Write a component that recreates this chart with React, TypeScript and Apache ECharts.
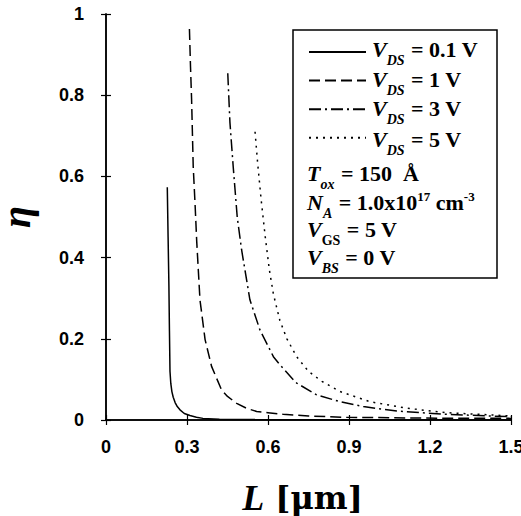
import React, { useEffect, useRef } from 'react';
import * as echarts from 'echarts';

// ---- data ----
const L_VDS01 = [0.227, 0.230, 0.233, 0.235, 0.237, 0.240, 0.244, 0.249, 0.256, 0.264, 0.274, 0.290, 0.311, 0.335, 0.359, 0.42, 0.55, 0.8, 1.5];
const ETA_VDS01 = [0.573, 0.45, 0.33, 0.22, 0.12, 0.09, 0.070, 0.056, 0.043, 0.033, 0.025, 0.016, 0.011, 0.007, 0.004, 0.002, 0.001, 0.0005, 0.0002];

const L_VDS1 = [0.309, 0.313, 0.317, 0.323, 0.330, 0.336, 0.348, 0.367, 0.391, 0.428, 0.45, 0.484, 0.52, 0.558, 0.6, 0.656, 0.75, 0.89, 1.0, 1.14, 1.25, 1.5];
const ETA_VDS1 = [0.963, 0.87, 0.79, 0.625, 0.53, 0.44, 0.296, 0.198, 0.132, 0.074, 0.058, 0.041, 0.029, 0.021, 0.018, 0.014, 0.010, 0.0066, 0.006, 0.005, 0.0045, 0.004];

const L_VDS3 = [0.451, 0.459, 0.471, 0.486, 0.502, 0.533, 0.570, 0.62, 0.644, 0.694, 0.706, 0.78, 0.867, 0.953, 1.077, 1.26, 1.5];
const ETA_VDS3 = [0.854, 0.733, 0.625, 0.50, 0.42, 0.296, 0.222, 0.156, 0.136, 0.099, 0.091, 0.062, 0.045, 0.033, 0.022, 0.014, 0.008];

const L_VDS5 = [0.552, 0.562, 0.575, 0.59, 0.605, 0.62, 0.644, 0.67, 0.706, 0.75, 0.8, 0.867, 0.978, 1.114, 1.26, 1.5];
const ETA_VDS5 = [0.71, 0.63, 0.54, 0.45, 0.37, 0.31, 0.245, 0.20, 0.156, 0.12, 0.095, 0.07, 0.045, 0.029, 0.018, 0.01];

const SERIES_NAMES = ['VDS = 0.1 V', 'VDS = 1 V', 'VDS = 3 V', 'VDS = 5 V'];
const LEGEND_VALUES = ['0.1 V', '1 V', '3 V', '5 V'];
const LINE_DASHES: (number[] | 'solid')[] = ['solid', [11, 5], [12, 4, 2, 4], [2, 5]];

const X_MIN = 0, X_MAX = 1.5, X_STEP = 0.3;
const Y_MIN = 0, Y_MAX = 1, Y_STEP = 0.2;

// legend / parameter text pieces: [text, kind]
type Kind = 'main' | 'text' | 'sub' | 'subUp' | 'sup';
const LEGEND_ROWS: [string, Kind][][] = LEGEND_VALUES.map((v) => [
  ['V', 'main'], ['DS', 'sub'], [' = ' + v, 'text'],
]);
const PARAM_ROWS: [string, Kind][][] = [
  [['T', 'main'], ['ox', 'sub'], [' = 150  Å', 'text']],
  [['N', 'main'], ['A', 'sub'], [' = 1.0x10', 'text'], ['17', 'sup'], [' cm', 'text'], ['-3', 'sup']],
  [['V', 'main'], ['GS', 'subUp'], [' = 5 V', 'text']],
  [['V', 'main'], ['BS', 'sub'], [' = 0 V', 'text']],
];

const SERIF = "'Liberation Serif', 'Times New Roman', serif";
const SANS = "'Liberation Sans', Arial, sans-serif";
const DEJAVU = "'DejaVu Serif', serif";

const KIND_STYLE: Record<Kind, { size: number; italic: boolean; dy: number }> = {
  main: { size: 22, italic: true, dy: 0 },
  text: { size: 22, italic: false, dy: 0 },
  sub: { size: 14, italic: true, dy: 11 },
  subUp: { size: 14, italic: false, dy: 11 },
  sup: { size: 13, italic: false, dy: -6 },
};

const zip = (xs: number[], ys: number[]) => xs.map((x, i) => [x, ys[i]]);
const SERIES_DATA = [zip(L_VDS01, ETA_VDS01), zip(L_VDS1, ETA_VDS1), zip(L_VDS3, ETA_VDS3), zip(L_VDS5, ETA_VDS5)];

export default function App() {
  const ref = useRef<HTMLDivElement>(null);
  useEffect(() => {
    const chart = echarts.init(ref.current!, null, { renderer: 'svg' });
    const ctx = document.createElement('canvas').getContext('2d')!;
    const fontOf = (k: Kind) => {
      const s = KIND_STYLE[k];
      return `${s.italic ? 'italic ' : ''}bold ${s.size}px 'Liberation Serif'`;
    };
    const rowElements = (row: [string, Kind][], x0: number, y: number) => {
      let x = x0;
      const out: any[] = [];
      row.forEach(([t, k]) => {
        const s = KIND_STYLE[k];
        out.push({
          type: 'text', z: 5, x, y: y + s.dy,
          style: {
            text: t, fill: '#000', fontFamily: SERIF, fontSize: s.size,
            fontStyle: s.italic ? 'italic' : 'normal', fontWeight: 'bold',
            verticalAlign: 'middle', align: 'left',
          },
        });
        ctx.font = fontOf(k);
        x += ctx.measureText(t).width + (k === 'sub' || k === 'subUp' ? 1 : 0);
      });
      return out;
    };
    const LEGEND_TEXT_Y = [49, 79, 108, 139];
    const PARAM_Y = [173, 202, 229, 257];

    const axisLine = { lineStyle: { color: '#000', width: 1.5 } };
    const axisTick = { inside: true, length: 5, lineStyle: { color: '#000', width: 1.2 } };
    const labelStyle = { color: '#000', fontSize: 18, fontWeight: 'bold', fontFamily: SANS };
    const option: any = {
      animation: false,
      backgroundColor: '#fff',
      grid: { left: 106, right: 10, top: 14, bottom: 96, containLabel: false, outerBoundsMode: 'none' },
      xAxis: [
        {
          type: 'value', min: X_MIN, max: X_MAX, interval: X_STEP, position: 'bottom',
          axisLine, axisTick, splitLine: { show: false },
          axisLabel: { ...labelStyle, margin: 18 },
          name: '{l|L} {r|[μm]}', nameLocation: 'middle', nameGap: 63,
          nameTextStyle: {
            fontFamily: DEJAVU, fontWeight: 'bold', fontSize: 32, color: '#000', lineHeight: 30,
            padding: [0, 12, 0, 0],
            rich: {
              l: { fontFamily: SERIF, fontStyle: 'italic', fontWeight: 'bold', fontSize: 36, lineHeight: 30, color: '#000' },
              r: { fontFamily: DEJAVU, fontWeight: 'bold', fontSize: 32, lineHeight: 30, color: '#000' },
            },
          },
        },
        {
          type: 'value', min: X_MIN, max: X_MAX, interval: X_STEP, position: 'top',
          axisLine, axisTick, splitLine: { show: false }, axisLabel: { show: false },
        },
      ],
      yAxis: [
        {
          type: 'value', min: Y_MIN, max: Y_MAX, interval: Y_STEP, position: 'left',
          axisLine, axisTick, splitLine: { show: false },
          axisLabel: { ...labelStyle, margin: 22 },
          name: 'η', nameLocation: 'middle', nameGap: 78,
          nameTextStyle: { fontFamily: SERIF, fontStyle: 'italic', fontWeight: 'bold', fontSize: 40, lineHeight: 24, color: '#000' },
        },
        {
          type: 'value', min: Y_MIN, max: Y_MAX, interval: Y_STEP, position: 'right',
          axisLine, axisTick, splitLine: { show: false }, axisLabel: { show: false },
        },
      ],
      legend: {
        orient: 'vertical', left: 308, top: 45, padding: 0, itemGap: 16,
        itemWidth: 57, itemHeight: 14, selectedMode: false,
        itemStyle: { opacity: 0 },
        data: SERIES_NAMES,
        formatter: () => '',
        textStyle: { color: '#000', fontSize: 1 },
      },
      graphic: [
        {
          type: 'rect', z: 0, shape: { x: 293, y: 30, width: 204, height: 248 },
          style: { fill: '#fff', stroke: '#000', lineWidth: 1.5 },
        },
        ...LEGEND_ROWS.flatMap((row, i) => rowElements(row, 372, LEGEND_TEXT_Y[i])),
        ...PARAM_ROWS.flatMap((row, i) => rowElements(row, 307, PARAM_Y[i])),
      ],
      series: SERIES_NAMES.map((name, i) => ({
        name, type: 'line', data: SERIES_DATA[i], showSymbol: false, symbol: 'none',
        xAxisIndex: 0, yAxisIndex: 0,
        lineStyle: { color: '#000', width: 1.5, type: LINE_DASHES[i] },
        itemStyle: { color: '#000' },
        z: 3,
      })),
    };
    chart.setOption(option);
    return () => chart.dispose();
  }, []);
  return <div ref={ref} style={{ position: 'absolute', left: 0, top: 0, width: 521, height: 516 }} />;
}
